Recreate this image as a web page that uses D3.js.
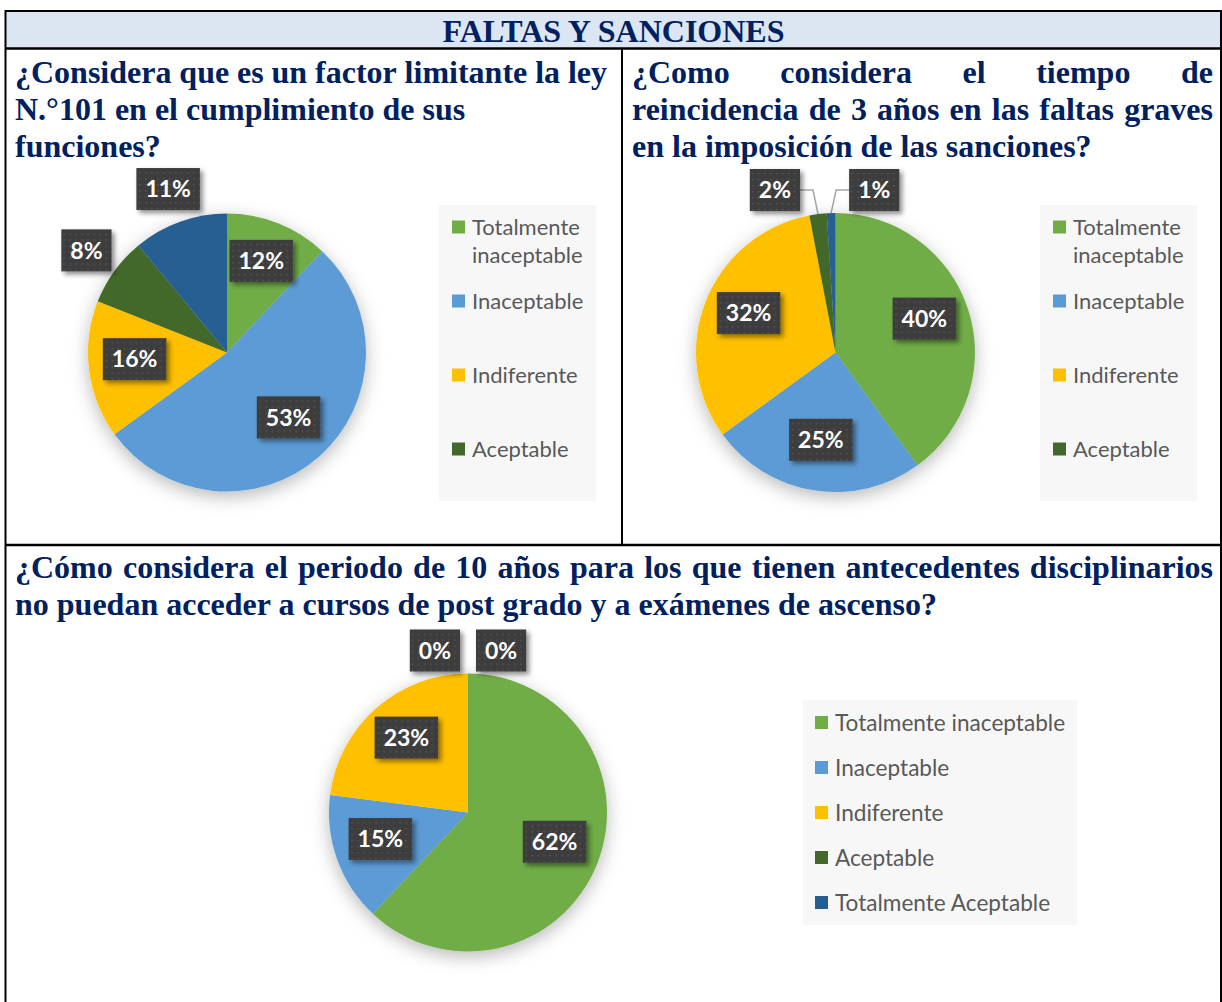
<!DOCTYPE html>
<html><head><meta charset="utf-8">
<script src="https://cdn.jsdelivr.net/npm/d3@7"></script>
<style>body{margin:0;background:#fff}svg{display:block}</style>
</head><body>
<svg id="c" width="1222" height="1002"></svg>
<script>
// ---------------- DATA ----------------
const categories = ["Totalmente inaceptable","Inaceptable","Indiferente","Aceptable","Totalmente Aceptable"];
const sliceColors = ["#70ad47","#5b9bd5","#ffc000","#43682b","#255e91"];
const chart1Values = [12,53,16,8,11];
const chart2Values = [40,25,32,2,1];
const chart3Values = [62,15,23,0,0];
const headerTitle = "FALTAS Y SANCIONES";
const question1Lines = ["¿Considera que es un factor limitante la ley","N.°101 en el cumplimiento de sus","funciones?"];
const question2Lines = ["¿Como considera el tiempo de","reincidencia de 3 años en las faltas graves","en la imposición de las sanciones?"];
const question3Lines = ["¿Cómo considera el periodo de 10 años para los que tienen antecedentes disciplinarios","no puedan acceder a cursos de post grado y a exámenes de ascenso?"];
const legend12Labels = [["Totalmente","inaceptable"],["Inaceptable"],["Indiferente"],["Aceptable"]];
const legend3Labels = categories;

// ---------------- SETUP ----------------
const svg = d3.select("#c");
const defs = svg.append("defs");
const fp = defs.append("filter").attr("id","pieShadow").attr("x","-30%").attr("y","-30%").attr("width","160%").attr("height","160%");
fp.append("feDropShadow").attr("dx",0).attr("dy",5).attr("stdDeviation",9).attr("flood-color","#000").attr("flood-opacity",0.28);
const fl = defs.append("filter").attr("id","lblShadow").attr("x","-30%").attr("y","-30%").attr("width","160%").attr("height","160%");
fl.append("feDropShadow").attr("dx",3).attr("dy",3).attr("stdDeviation",2.5).attr("flood-color","#000").attr("flood-opacity",0.45);
const pat = defs.append("pattern").attr("id","dots").attr("width",6).attr("height",6).attr("patternUnits","userSpaceOnUse");
pat.append("rect").attr("width",6).attr("height",6).attr("fill","#3e3e3e");
pat.append("rect").attr("x",1).attr("y",1).attr("width",1.3).attr("height",1.3).attr("fill","#5a5a5a");

const navy = "#002060";
const serif = "'Liberation Serif','Times New Roman',serif";
const sans = "Lato, Carlito, Calibri, sans-serif";

// ---------------- FRAME ----------------
svg.append("rect").attr("x",5).attr("y",11).attr("width",1217).attr("height",37).attr("fill","#dce6f2");
const frame = svg.append("g").attr("stroke","#000").attr("fill","none");
frame.append("line").attr("x1",5).attr("x2",1222).attr("y1",11).attr("y2",11).attr("stroke-width",2);
frame.append("line").attr("x1",5).attr("x2",1222).attr("y1",48.5).attr("y2",48.5).attr("stroke-width",2.5);
frame.append("line").attr("x1",5.5).attr("x2",5.5).attr("y1",10).attr("y2",1002).attr("stroke-width",2);
frame.append("line").attr("x1",1221).attr("x2",1221).attr("y1",10).attr("y2",1002).attr("stroke-width",2);
frame.append("line").attr("x1",622).attr("x2",622).attr("y1",48).attr("y2",545).attr("stroke-width",2);
frame.append("line").attr("x1",5).attr("x2",1222).attr("y1",545).attr("y2",545).attr("stroke-width",2.5);

// ---------------- TEXT ----------------
svg.append("text").attr("x",613.5).attr("y",42).attr("text-anchor","middle")
  .attr("font-family",serif).attr("font-weight","bold").attr("font-size",32).attr("fill",navy).text(headerTitle);

function questionBlock(lines, x0, x1, y0, justifyLines){
  lines.forEach((line,li)=>{
    const y = y0 + li*37;
    if(justifyLines.includes(li)){
      const words = line.split(" ");
      const tmp = words.map(w=>svg.append("text").attr("font-family",serif).attr("font-weight","bold").attr("font-size",32).attr("fill",navy).attr("y",y).text(w));
      const widths = tmp.map(t=>t.node().getComputedTextLength());
      const gap = (x1-x0-d3.sum(widths))/(words.length-1);
      let x = x0;
      tmp.forEach((t,i)=>{ t.attr("x",x); x += widths[i]+gap; });
    } else {
      svg.append("text").attr("x",x0).attr("y",y).attr("font-family",serif).attr("font-weight","bold")
        .attr("font-size",32).attr("fill",navy).text(line);
    }
  });
}
questionBlock(question1Lines, 15, 607, 83, [0]);
questionBlock(question2Lines, 632, 1213, 83, [0,1]);
questionBlock(question3Lines, 15, 1213, 578, [0]);

// ---------------- PIES ----------------
function drawPie(values, cx, cy, r){
  const g = svg.append("g").attr("transform",`translate(${cx},${cy})`);
  const arcs = d3.pie().sort(null).value(d=>d)(values);
  const arc = d3.arc().innerRadius(0).outerRadius(r);
  g.append("g").attr("filter","url(#pieShadow)")
    .selectAll("path").data(arcs).join("path")
    .attr("d",arc).attr("fill",(d,i)=>sliceColors[i]);
  let smallIdx = 0;
  arcs.forEach((d,i)=>{
    const v = values[i];
    const a = (d.startAngle+d.endAngle)/2;
    const lg = g.append("g");
    const t = lg.append("text").attr("font-family",sans).attr("font-weight","bold").attr("font-size",23)
      .attr("fill","#fff").attr("text-anchor","middle").attr("dy","0.36em").text(v+"%");
    const tw = t.node().getComputedTextLength();
    const bw = tw+18, bh = 42;
    let x, y;
    if(v >= 12){
      x = Math.sin(a)*r*0.67; y = -Math.cos(a)*r*0.67 - 5;
    } else if(v >= 3){
      x = Math.sin(a)*r*1.25; y = -Math.cos(a)*r*1.25;
    } else {
      const side = smallIdx++ === 0 ? -1 : 1;
      const ex = Math.sin(a)*r, ey = -Math.cos(a)*r;
      const gap = v > 0 ? 18 : 8;
      x = ex + side*(gap + bw/2); y = -r - 23;
      if(v > 0){
        g.insert("path", ":first-child").attr("fill","none").attr("stroke","#a6a6a6").attr("stroke-width",1.5)
          .attr("d", d3.line()([[ex+side*gap, y],[ex+side*5, y],[ex, ey]]));
      }
    }
    lg.attr("transform",`translate(${x},${y})`);
    lg.insert("rect","text").attr("x",-bw/2).attr("y",-bh/2).attr("width",bw).attr("height",bh)
      .attr("fill","url(#dots)").attr("filter","url(#lblShadow)");
  });
}
drawPie(chart1Values, 227, 352.5, 139);
drawPie(chart2Values, 835.5, 352.5, 139.5);
drawPie(chart3Values, 468, 812.5, 139);

// ---------------- LEGENDS ----------------
function legendSmall(x, y){
  const g = svg.append("g");
  g.append("rect").attr("x",x).attr("y",y).attr("width",157).attr("height",296).attr("fill","#f7f7f7");
  legend12Labels.forEach((lines,i)=>{
    const cy = y + 22 + i*74;
    g.append("rect").attr("x",x+13).attr("y",cy-6.5).attr("width",13).attr("height",13).attr("fill",sliceColors[i]);
    lines.forEach((ln,j)=>{
      g.append("text").attr("x",x+33).attr("y",cy+j*28).attr("dy","0.36em")
        .attr("font-family",sans).attr("font-size",22).attr("fill","#595959").text(ln);
    });
  });
}
legendSmall(439, 205);
legendSmall(1040, 205);

(function(){
  const x = 803, y = 700;
  const g = svg.append("g");
  g.append("rect").attr("x",x).attr("y",y).attr("width",274).attr("height",225).attr("fill","#f7f7f7");
  legend3Labels.forEach((ln,i)=>{
    const cy = y + 22.5 + i*45;
    g.append("rect").attr("x",x+12).attr("y",cy-6.5).attr("width",13).attr("height",13).attr("fill",sliceColors[i]);
    g.append("text").attr("x",x+32).attr("y",cy).attr("dy","0.36em")
      .attr("font-family",sans).attr("font-size",22.6).attr("fill","#595959").text(ln);
  });
})();
</script>
</body></html>
